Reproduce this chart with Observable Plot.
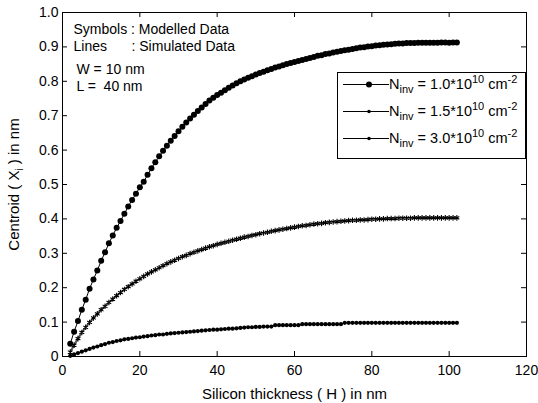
<!DOCTYPE html>
<html><head><meta charset="utf-8">
<script src="https://cdn.jsdelivr.net/npm/d3@7"></script>
<script src="https://cdn.jsdelivr.net/npm/@observablehq/plot@0.6"></script>
<style>
body{margin:0;background:#fff;}
#wrap{position:relative;width:538px;height:403px;font-family:"Liberation Sans",Arial,sans-serif;color:#000;}
.legend{position:absolute;left:337px;top:72px;width:189px;height:87px;border:1px solid #000;background:#fff;box-sizing:border-box;}
.row{position:absolute;left:0;height:20px;width:100%;}
.row svg{position:absolute;left:5px;top:3px;}
.row .t{position:absolute;left:51px;top:-1px;font-size:14.5px;white-space:nowrap;line-height:18px;}
.row sub{font-size:11px;vertical-align:-4px;line-height:0;}
.row sup{font-size:11px;vertical-align:6px;line-height:0;}
</style>
</head><body>
<div id="wrap"></div>
<script>
// Silicon thickness H (nm)
const thickness = [2,3,4,5,6,7,8,9,10,11,12,13,14,15,16,17,18,19,20,21,22,23,24,25,26,27,28,29,30,31,32,33,34,35,36,37,38,39,40,41,42,43,44,45,46,47,48,49,50,51,52,53,54,55,56,57,58,59,60,61,62,63,64,65,66,67,68,69,70,71,72,73,74,75,76,77,78,79,80,81,82,83,84,85,86,87,88,89,90,91,92,93,94,95,96,97,98,99,100,101,102];
// Centroid (nm) for Ninv = 1.0e10
const centroid10 = [0.037,0.072,0.103,0.136,0.165,0.197,0.224,0.250,0.278,0.303,
0.329,0.352,0.374,0.394,0.415,0.436,0.455,0.473,0.492,0.508,
0.528,0.547,0.565,0.582,0.598,0.613,0.627,0.641,0.655,0.668,
0.680,0.692,0.703,0.714,0.724,0.734,0.744,0.752,0.760,0.767,
0.774,0.781,0.788,0.794,0.800,0.805,0.810,0.815,0.820,0.824,
0.828,0.832,0.836,0.840,0.843,0.847,0.850,0.853,0.856,0.859,
0.862,0.865,0.868,0.871,0.874,0.876,0.879,0.881,0.884,0.886,
0.888,0.890,0.892,0.894,0.896,0.898,0.899,0.901,0.902,0.904,
0.905,0.906,0.907,0.908,0.909,0.910,0.910,0.911,0.911,0.911,
0.912,0.912,0.912,0.912,0.912,0.912,0.913,0.913,0.912,0.913,
0.913];
// Ninv = 1.5e10
const centroid15 = [0.013,0.033,0.052,0.070,0.085,0.099,0.112,0.124,0.136,0.146,
0.157,0.167,0.177,0.186,0.195,0.203,0.211,0.219,0.226,0.233,
0.240,0.246,0.252,0.258,0.264,0.270,0.275,0.280,0.285,0.290,
0.294,0.299,0.303,0.307,0.311,0.315,0.319,0.322,0.326,0.329,
0.332,0.335,0.338,0.341,0.344,0.347,0.349,0.352,0.354,0.357,
0.359,0.361,0.364,0.366,0.368,0.370,0.372,0.374,0.376,0.378,
0.380,0.381,0.383,0.385,0.386,0.387,0.389,0.390,0.391,0.392,
0.393,0.394,0.395,0.396,0.396,0.397,0.397,0.398,0.399,0.399,
0.400,0.400,0.401,0.401,0.401,0.402,0.402,0.402,0.402,0.403,
0.403,0.403,0.403,0.403,0.403,0.403,0.403,0.403,0.403,0.403,
0.403];
// Ninv = 3.0e10
const centroid30 = [0.002,0.006,0.010,0.014,0.018,0.022,0.026,0.029,0.033,0.036,
0.040,0.042,0.045,0.047,0.050,0.051,0.053,0.055,0.056,0.058,
0.059,0.061,0.062,0.064,0.064,0.066,0.067,0.068,0.069,0.070,
0.071,0.072,0.073,0.074,0.075,0.076,0.077,0.078,0.078,0.079,
0.080,0.081,0.081,0.082,0.083,0.084,0.085,0.085,0.086,0.086,
0.087,0.087,0.087,0.091,0.091,0.091,0.091,0.091,0.091,0.091,
0.094,0.094,0.094,0.094,0.094,0.094,0.094,0.094,0.094,0.094,
0.094,0.098,0.098,0.098,0.098,0.098,0.098,0.098,0.098,0.098,
0.098,0.098,0.098,0.098,0.098,0.098,0.098,0.098,0.098,0.098,
0.098,0.098,0.098,0.098,0.098,0.098,0.098,0.098,0.098,0.098,
0.098];
const seriesNames = ["1.0", "1.5", "3.0"];
const xTicks = [0,20,40,60,80,100,120];
const yTicks = [0,0.1,0.2,0.3,0.4,0.5,0.6,0.7,0.8,0.9,1.0];
const notes = ["Symbols : Modelled Data", "Lines", ": Simulated Data", "W = 10 nm", "L =\u00a0\u00a040 nm"];

const s1 = thickness.map((x,i)=>({x, y: centroid10[i]}));
const s2 = thickness.map((x,i)=>({x, y: centroid15[i]}));
const s3 = thickness.map((x,i)=>({x, y: centroid30[i]}));

const W = 538, H = 403, mL = 62, mR = 12, mT = 12, mB = 47;
const pw = W - mL - mR, ph = H - mT - mB, tk = 5;

const chart = Plot.plot({
  width: W, height: H, marginLeft: mL, marginRight: mR, marginTop: mT, marginBottom: mB,
  style: {fontFamily: "'Liberation Sans', Arial, sans-serif", fontSize: "14px", color: "#000", background: "#fff"},
  x: {domain: [0,120]},
  y: {domain: [0,1]},
  marks: [
    Plot.axisX(xTicks, {tickSize: 0, tickPadding: 9, tickFormat: d => String(d), label: "Silicon thickness ( H ) in nm", labelAnchor: "center", labelArrow: "none", labelOffset: 42, fontSize: 14}),
    Plot.axisY(yTicks, {tickSize: 0, tickPadding: 4, tickFormat: d => d === 0 ? "0" : d.toFixed(1), label: "Centroid ( X ) in nm", labelAnchor: "center", labelArrow: "none", labelOffset: 54, fontSize: 14}),
    Plot.tickX(xTicks, {x: d => d, insetTop: ph - tk, stroke: "#000"}),
    Plot.tickX(xTicks, {x: d => d, insetBottom: ph - tk, stroke: "#000"}),
    Plot.tickY(yTicks, {y: d => d, insetRight: pw - tk, stroke: "#000"}),
    Plot.tickY(yTicks, {y: d => d, insetLeft: pw - tk, stroke: "#000"}),
    Plot.line(s1, {x: "x", y: "y", stroke: "#000", strokeWidth: 1}),
    Plot.dot(s1, {x: "x", y: "y", r: 3, fill: "#000", stroke: "none"}),
    Plot.line(s2, {x: "x", y: "y", stroke: "#555", strokeWidth: 2}),
    Plot.dot(s2, {x: "x", y: "y", symbol: "asterisk", r: 2.6, stroke: "#000", strokeWidth: 1.1}),
    Plot.line(s3, {x: "x", y: "y", stroke: "#000", strokeWidth: 1.2}),
    Plot.dot(s3, {x: "x", y: "y", r: 2.1, fill: "#000", stroke: "none"}),
    Plot.text([notes[0]], {frameAnchor: "top-left", dx: 11, dy: 17, textAnchor: "start", lineAnchor: "middle", fontSize: 14}),
    Plot.text([notes[1]], {frameAnchor: "top-left", dx: 11, dy: 34, textAnchor: "start", lineAnchor: "middle", fontSize: 14}),
    Plot.text([notes[2]], {frameAnchor: "top-left", dx: 69, dy: 34, textAnchor: "start", lineAnchor: "middle", fontSize: 14}),
    Plot.text([notes[3]], {frameAnchor: "top-left", dx: 14, dy: 57, textAnchor: "start", lineAnchor: "middle", fontSize: 14}),
    Plot.text([notes[4]], {frameAnchor: "top-left", dx: 14, dy: 74, textAnchor: "start", lineAnchor: "middle", fontSize: 14}),
    Plot.frame({stroke: "#000", strokeWidth: 1})
  ]
});

// axis titles: 15px, subscript i in the y label
chart.querySelectorAll("text").forEach(t => {
  const s = t.textContent;
  if (s.startsWith("Silicon")) t.setAttribute("font-size", "15");
  if (s.startsWith("Centroid")) {
    const ns = "http://www.w3.org/2000/svg";
    t.setAttribute("font-size", "15");
    while (t.firstChild) t.removeChild(t.firstChild);
    const a = document.createElementNS(ns, "tspan"); a.textContent = "Centroid ( X";
    const b = document.createElementNS(ns, "tspan"); b.textContent = "i"; b.setAttribute("dy", "4"); b.setAttribute("font-size", "10");
    const c = document.createElementNS(ns, "tspan"); c.textContent = "\u00a0) in nm"; c.setAttribute("dy", "-4");
    t.append(a, b, c);
  }
});

const wrap = document.getElementById("wrap");
wrap.appendChild(chart);

// legend
const leg = document.createElement("div");
leg.className = "legend";
const rowTops = [3, 30, 57];
const markerR = [3, 1.8, 1.8];
seriesNames.forEach((n, i) => {
  const row = document.createElement("div");
  row.className = "row";
  row.style.top = rowTops[i] + "px";
  row.innerHTML = `<svg width="46" height="11"><line x1="0" y1="5.5" x2="46" y2="5.5" stroke="#000" stroke-width="1"/><circle cx="26" cy="5.5" r="${markerR[i]}" fill="#000"/></svg><span class="t">N<sub>inv</sub> = ${n}*10<sup>10</sup> cm<sup>-2</sup></span>`;
  leg.appendChild(row);
});
wrap.appendChild(leg);
</script>
</body></html>
